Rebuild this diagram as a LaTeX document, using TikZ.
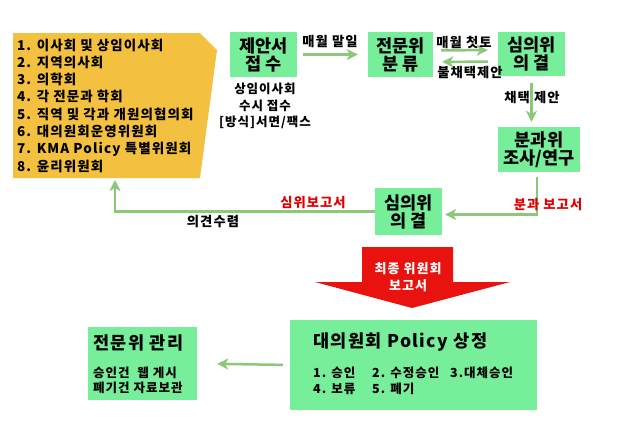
\documentclass[tikz,border=0pt]{standalone}
\usepackage{fontspec}
\setmainfont{Noto Sans CJK KR}[BoldFont={Noto Sans CJK KR Black}]
\newfontfamily\krw{Noto Sans CJK KR}[LetterSpace=8,BoldFont={Noto Sans CJK KR Black}]
\usetikzlibrary{arrows.meta}
\definecolor{boxgreen}{HTML}{77EE99}
\definecolor{arrgreen}{HTML}{8CC87A}
\definecolor{callyellow}{HTML}{F4C03F}
\definecolor{arrred}{HTML}{E8120F}
\definecolor{txtred}{HTML}{E00000}
\begin{document}
\begin{tikzpicture}[x=1pt,y=-1pt,>={Stealth[length=11pt,width=11pt,inset=3pt]},
		box/.style={fill=boxgreen,inner sep=0pt,align=center,font=\bfseries\fontsize{17.5}{18}\selectfont},
		arr/.style={->,draw=arrgreen,line width=2.5pt},
		lbl/.style={font=\krw\bfseries\fontsize{13.3}{14}\selectfont,inner sep=1pt},
		redlbl/.style={lbl,text=txtred},
		sub/.style={font=\krw\bfseries\fontsize{12.5}{16}\selectfont,inner sep=0pt,anchor=west}]
	\useasboundingbox[fill=white] (0,0) rectangle (622,445);
	% member bodies
	\fill[callyellow] (13,33) -- (200,33) -- (217,50) -- (200,178) -- (13,178) -- cycle;
	\coordinate (callbot) at (115,178);
	\foreach \t [count=\i] in {1. 이사회 및 상임이사회,2. 지역의사회,3. 의학회,4. 각 전문과 학회,5. 직역 및 각과 개원의협의회,6. 대의원회운영위원회,7. KMA Policy 특별위원회,8. 윤리위원회}{
		\node[sub,font=\krw\bfseries\fontsize{13.5}{14}\selectfont] (it\i) at (17,{45+17.3*(\i-1)}) {\t};
	}
	% boxes
	\node[box,minimum width=67pt,minimum height=45pt] (jeup) at (263.5,54.5) {제안서\\접 수};
	\node[box,minimum width=65pt,minimum height=45pt] (bunryu) at (400.5,54.5) {전문위\\분 류};
	\node[box,minimum width=67pt,minimum height=44pt] (uigyeol) at (531.5,54) {심의위\\의 결};
	\node[box,minimum width=82pt,minimum height=45pt] (josa) at (539,149.5) {분과위\\조사/연구};
	\node[box,minimum width=67pt,minimum height=47pt] (simui) at (408.5,211.5) {심의위\\의 결};
	\node[box,minimum width=247pt,minimum height=90pt] (sangjeong) at (413.5,365) {};
	\node[box,minimum width=109pt,minimum height=73pt] (gwanri) at (142.5,363.5) {};
	\node[sub,font=\krw\bfseries\fontsize{17.5}{18}\selectfont] (sjtitle) at (313,342) {대의원회 Policy 상정};
	\node[sub] (sj1) at (313,373) {\makebox[59pt][l]{1. 승인}\makebox[78pt][l]{2. 수정승인}3.대체승인};
	\node[sub] (sj2) at (313,389) {\makebox[59pt][l]{4. 보류}5. 폐기};
	\node[sub,font=\krw\bfseries\fontsize{17.5}{18}\selectfont] (gwtitle) at (93,343) {전문위 관리};
	\node[sub] (gw1) at (93,373) {승인건\ \ 웹 게시};
	\node[sub] (gw2) at (93,388) {폐기건 자료보관};
	\node[align=center,font=\krw\bfseries\fontsize{12.5}{16.5}\selectfont] (sangim) at (265,106) {상임이사회\\수시 접수\\{[}방식{]}서면/팩스};
	% final report arrow
	\fill[arrred] (362,247) -- (453,247) -- (453,282) -- (510,282) -- (412,308) -- (315,282) -- (362,282) -- cycle;
	\node[align=center,text=white,font=\krw\bfseries\fontsize{13}{17}\selectfont] (final) at (408,277) {최종 위원회\\보고서};
	% flow
	\draw[arr,shorten <=6pt,shorten >=10pt] (jeup.east) -- (bunryu.west);
	\draw[arr,shorten <=8pt,shorten >=10pt] ([yshift=4pt]bunryu.east) -- ([yshift=4pt]uigyeol.west);
	\draw[arr,shorten <=10pt,shorten >=9pt] ([yshift=-7.5pt]uigyeol.west) -- ([yshift=-7.5pt]bunryu.east);
	\draw[arr,shorten <=7pt,shorten >=5pt] (uigyeol.south) -- (uigyeol.south |- josa.north);
	\draw[arr,shorten <=5pt,shorten >=3pt] ([xshift=-2pt]josa.south) |- ([yshift=-3pt]simui.east);
	\draw[arr,shorten >=2pt] (simui.west) -| (callbot);
	\draw[arr,shorten <=7pt,shorten >=20pt] (sangjeong.west) -- (gwanri.east);
	\node[lbl] (l1) at (330,42) {매월 말일};
	\node[lbl] (l2) at (464,42) {매월 첫토};
	\node[lbl] (l3) at (470,73) {불채택제안};
	\node[lbl] (l4) at (532,98) {채택 제안};
	\node[redlbl] (l5) at (548,205) {분과 보고서};
	\node[redlbl] (l6) at (313,203) {심위보고서};
	\node[lbl] (l7) at (213,222) {의견수렴};
\end{tikzpicture}
\end{document}
